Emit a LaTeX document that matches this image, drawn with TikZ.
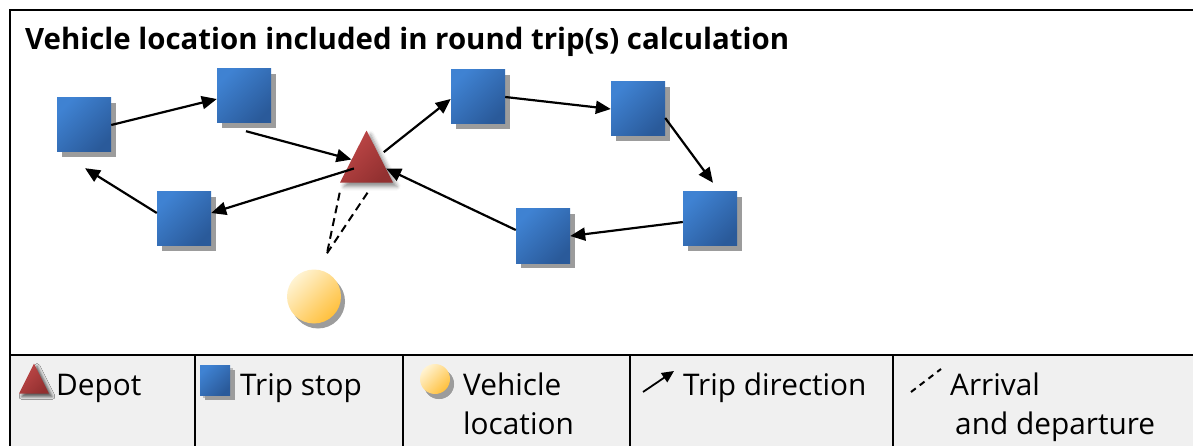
\documentclass[tikz,border=0pt]{standalone}
\usepackage{fontspec}
\setmainfont{Open Sans}
\usetikzlibrary{calc, shapes.geometric, arrows.meta, shadows, shadows.blur}
\definecolor{stopa}{HTML}{3F82D2}
\definecolor{stopb}{HTML}{2A5A9A}
\definecolor{depa}{HTML}{C04848}
\definecolor{depb}{HTML}{923030}
\definecolor{vehia}{HTML}{FFF3D2}
\definecolor{vehib}{HTML}{FFC03C}
\definecolor{shadowgray}{HTML}{9C9C9C}
\definecolor{legendbg}{HTML}{F0F0F0}

\tikzset{
  stop/.style={rectangle, minimum size=54pt, inner sep=0pt,
    top color=stopa, bottom color=stopb, shading angle=45,
    drop shadow={shadow xshift=5pt, shadow yshift=-5pt, fill=shadowgray, opacity=1}},
  depot/.style={isosceles triangle, shape border rotate=90, isosceles triangle stretches,
    minimum width=53pt, minimum height=52pt, inner sep=0pt,
    top color=depa, bottom color=depb, shading angle=45,
    blur shadow={shadow xshift=4pt, shadow yshift=-4pt, shadow blur radius=4pt, shadow opacity=45}},
  vehicle/.style={circle, minimum size=54pt, inner sep=0pt,
    top color=vehia, bottom color=vehib, shading angle=45,
    drop shadow={shadow xshift=4pt, shadow yshift=-5pt, fill=shadowgray, opacity=1}},
  trip/.style={line width=2.2pt, -{Triangle[length=15pt, width=13pt]}},
  arrdep/.style={line width=2pt, dash pattern=on 8pt off 5pt},
  legend/.style={anchor=base west, inner sep=0pt, font=\fontsize{29.8}{39}\selectfont}
}

\begin{document}
\begin{tikzpicture}[x=1pt, y=-1pt]
    \useasboundingbox (0,0) rectangle (1193,446);
    \fill[legendbg] (10,355) rectangle (1210,460);
    \draw[line width=2pt] (10,460) -- (10,10) -- (1210,10);
    \draw[line width=2pt] (10,355) -- (1210,355);
    \foreach \x in {195, 403, 630, 893}
        \draw[line width=2pt] (\x,355) -- (\x,460);
    \node[anchor=base west, inner sep=0pt, font=\fontsize{29.4}{39}\selectfont\bfseries] (title) at (25,50)
        {Vehicle location included in round trip(s) calculation};

    \foreach \n/\p in {s1/{84,125}, s2/{244,96}, s3/{478,97}, s4/{638,109},
                       s5/{710,219}, s6/{543,236}, s7/{184,219}}
        \node[stop] (\n) at (\p) {};
    \node[depot, anchor=apex] (dep) at (366.5,130) {};
    \node[vehicle] (veh) at (314,296.5) {};

    \draw[trip] (s1.east) -- ($(s2.west)+(0,3)$);
    \draw[trip] ($(s2.south)+(2,8)$) -- ($(dep.apex)!0.56!(dep.left corner)$);
    \draw[trip] ($(dep.apex)!0.42!(dep.right corner)+(6,0)$) -- ($(s3.west)+(0,2)$);
    \draw[trip] (s3.east) -- (s4.west);
    \draw[trip] ($(s4.east)+(0,9)$) -- ($(s5.north)+(3,-9)$);
    \draw[trip] ($(s5.west)+(0,3)$) -- (s6.east);
    \draw[trip] ($(s6.west)+(0,-6)$) -- ($(dep.apex)!0.73!(dep.right corner)$);
    \draw[trip] ($(dep.apex)!0.73!(dep.left corner)+(7,0)$) -- ($(s7.east)+(0,-6)$);
    \draw[trip] ($(s7.west)+(0,-6)$) -- ($(s1.south)+(1,16)$);
    \draw[arrdep] ($(dep.left corner)+(0,10)$) -- ($(veh.north)+(13,-16)$);
    \draw[arrdep] ($(dep.lower side)+(1,10)$) -- ($(veh.north)+(13,-16)$);

    \node[depot, minimum width=30pt, minimum height=30pt, anchor=apex,
          blur shadow={shadow xshift=3pt, shadow yshift=-3pt, shadow blur radius=3pt, shadow opacity=40}] (ldep) at (34,363) {};
    \node[stop, minimum size=30pt,
          drop shadow={shadow xshift=3pt, shadow yshift=-3pt, fill=shadowgray, opacity=0.6}] (lstop) at (215,380) {};
    \node[vehicle, minimum size=30pt,
          drop shadow={shadow xshift=4pt, shadow yshift=-5pt, fill=shadowgray, opacity=1}] (lveh) at (435,379) {};
    \coordinate (ltripa) at (643,392);
    \coordinate (ltripb) at (674,371);
    \draw[line width=1.8pt, -{Triangle[length=12pt, width=11pt]}] (ltripa) -- (ltripb);
    \coordinate (larra) at (911,392);
    \coordinate (larrb) at (941,369);
    \draw[arrdep, dash pattern=on 6pt off 5pt] (larra) -- (larrb);

    \node[legend] (ldeptxt) at (56,395) {Depot};
    \node[legend] (lstoptxt) at (240,395) {Trip stop};
    \node[legend] (lvehtxt) at (463,395) {Vehicle};
    \node[legend] (lvehtxtb) at (463,434) {location};
    \node[legend] (ltriptxt) at (683,395) {Trip direction};
    \node[legend] (larrtxt) at (950,395) {Arrival};
    \node[legend] (larrtxtb) at (955,434) {and departure};
\end{tikzpicture}
\end{document}
